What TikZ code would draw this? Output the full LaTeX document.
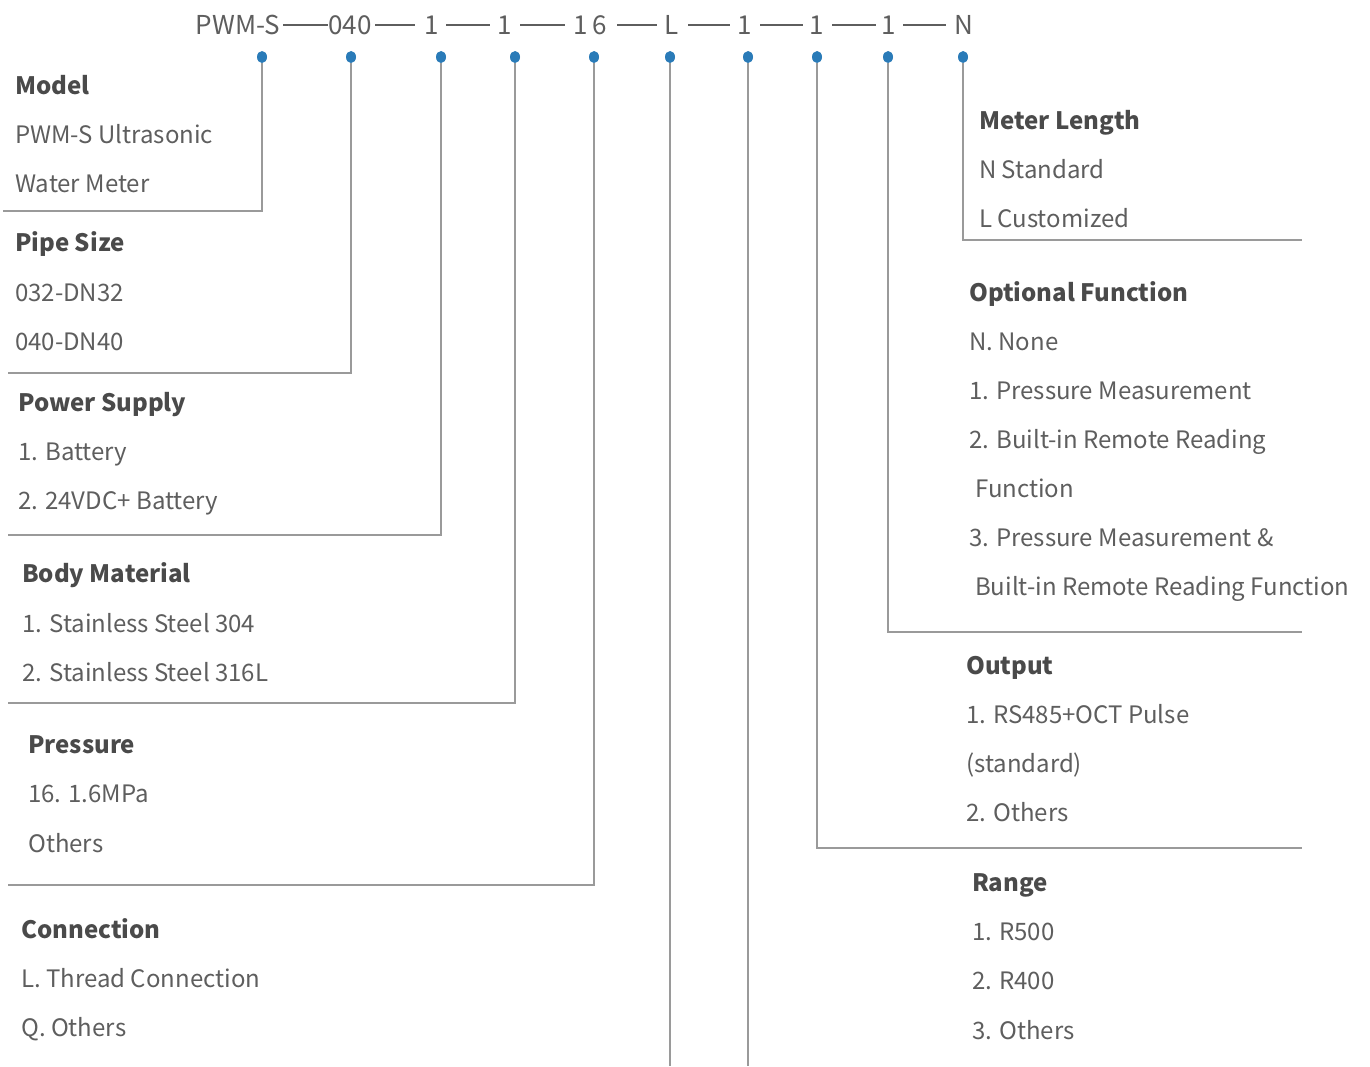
\documentclass[tikz,border=0pt]{standalone}
\usepackage{fontspec}
\usetikzlibrary{shapes.geometric}
\setmainfont{Noto Sans CJK SC}
\definecolor{txt}{HTML}{5E5E5E}
\definecolor{hd}{HTML}{4A4A4A}
\definecolor{ln}{HTML}{9A9A9A}
\definecolor{dotc}{HTML}{2A7BB8}
\begin{document}
\begin{tikzpicture}[x=1pt,y=-1pt,
  dotn/.style={ellipse,fill=dotc,inner sep=0pt,minimum width=10pt,minimum height=12pt},
  conn/.style={draw=ln,line width=1.6pt},
  code/.style={font=\fontsize{26}{28}\selectfont,text=txt,inner sep=0pt,anchor=base},
  cdash/.style={draw=txt,line width=1.3pt},
  hdr/.style={font=\fontsize{24}{26}\selectfont\bfseries,text=hd,inner sep=0pt,anchor=base west},
  itm/.style={font=\fontsize{24}{26}\selectfont,text=txt,inner sep=0pt,anchor=base west}]
\useasboundingbox[fill=white] (0,0) rectangle (1370,1066);
% code string
\node[code] (c1) at (238,34) {PWM-S};
\node[code] (c2) at (350,34) {040};
\node[code] (c3) at (432,34) {1};
\node[code] (c4) at (505,34) {1};
\node[code] (c5) at (590,34) {1\,6};
\node[code] (c6) at (672,34) {L};
\node[code] (c7) at (745,34) {1};
\node[code] (c8) at (817,34) {1};
\node[code] (c9) at (889,34) {1};
\node[code] (c10) at (964,34) {N};
\foreach \a/\b in {283/328,375/415,446/490,520/565,617/657,688/730,760/803,832/876,903/946}
  \draw[cdash] (\a,25) -- (\b,25);
% dots
\node[dotn] (d1) at (262,57) {};
\node[dotn] (d2) at (351,57) {};
\node[dotn] (d3) at (441,57) {};
\node[dotn] (d4) at (515,57) {};
\node[dotn] (d5) at (594,57) {};
\node[dotn] (d6) at (670,57) {};
\node[dotn] (d7) at (748,57) {};
\node[dotn] (d8) at (817,57) {};
\node[dotn] (d9) at (888,57) {};
\node[dotn] (d10) at (963,57) {};
% connector ends
\coordinate (e1) at (3,211);
\coordinate (e2) at (8,373);
\coordinate (e3) at (8,535);
\coordinate (e4) at (8,703);
\coordinate (e5) at (8,885);
\coordinate (e6) at (670,1066);
\coordinate (e7) at (748,1066);
\coordinate (e8) at (1302,848);
\coordinate (e9) at (1302,632);
\coordinate (e10) at (1302,240);
\foreach \i in {1,2,3,4,5,8,9,10} \draw[conn] (d\i.south) |- (e\i);
\foreach \i in {6,7} \draw[conn] (d\i.south) -- (e\i);
% left texts
\node[hdr] (t1) at (15,94) {Model};
\node[itm] (t1a) at (15,143) {PWM-S Ultrasonic};
\node[itm] (t1b) at (15,192) {Water Meter};
\node[hdr] (t2) at (15,251) {Pipe Size};
\node[itm] (t2a) at (15,301) {032-DN32};
\node[itm] (t2b) at (15,350) {040-DN40};
\node[hdr] (t3) at (18,411) {Power Supply};
\node[itm] (t3a) at (18,460) {1. Battery};
\node[itm] (t3b) at (18,509) {2. 24VDC+ Battery};
\node[hdr] (t4) at (22,582) {Body Material};
\node[itm] (t4a) at (22,632) {1. Stainless Steel 304};
\node[itm] (t4b) at (22,681) {2. Stainless Steel 316L};
\node[hdr] (t5) at (28,753) {Pressure};
\node[itm] (t5a) at (28,802) {16. 1.6MPa};
\node[itm] (t5b) at (28,852) {Others};
\node[hdr] (t6) at (21,938) {Connection};
\node[itm] (t6a) at (21,987) {L. Thread Connection};
\node[itm] (t6b) at (21,1036) {Q. Others};
% right texts
\node[hdr] (t10) at (979,129) {Meter Length};
\node[itm] (t10a) at (979,178) {N Standard};
\node[itm] (t10b) at (979,227) {L Customized};
\node[hdr] (t9) at (969,301) {Optional Function};
\node[itm] (t9a) at (969,350) {N. None};
\node[itm] (t9b) at (969,399) {1. Pressure Measurement};
\node[itm] (t9c) at (969,448) {2. Built-in Remote Reading};
\node[itm] (t9d) at (975,497) {Function};
\node[itm] (t9e) at (969,546) {3. Pressure Measurement \&};
\node[itm] (t9f) at (975,595) {Built-in Remote Reading Function};
\node[hdr] (t8) at (966,674) {Output};
\node[itm] (t8a) at (966,723) {1. RS485+OCT Pulse};
\node[itm] (t8b) at (966,772) {(standard)};
\node[itm] (t8c) at (966,821) {2. Others};
\node[hdr] (t7) at (972,891) {Range};
\node[itm] (t7a) at (972,940) {1. R500};
\node[itm] (t7b) at (972,989) {2. R400};
\node[itm] (t7c) at (972,1039) {3. Others};
\end{tikzpicture}
\end{document}
